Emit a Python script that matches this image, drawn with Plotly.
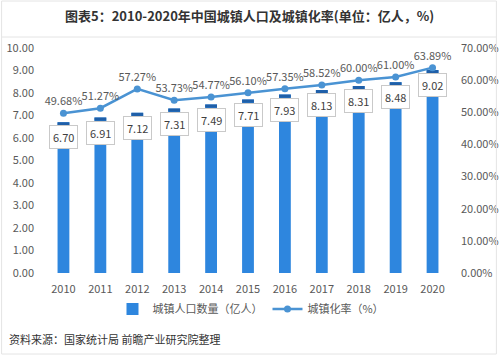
import plotly.graph_objects as go

years = ["2010", "2011", "2012", "2013", "2014", "2015", "2016", "2017", "2018", "2019", "2020"]
urban_pop = [6.70, 6.91, 7.12, 7.31, 7.49, 7.71, 7.93, 8.13, 8.31, 8.48, 9.02]
urban_rate = [49.68, 51.27, 57.27, 53.73, 54.77, 56.10, 57.35, 58.52, 60.00, 61.00, 63.89]
left_ticks = [0, 1, 2, 3, 4, 5, 6, 7, 8, 9, 10]
right_ticks = [0, 10, 20, 30, 40, 50, 60, 70]

FONT = "Noto Sans CJK SC, Noto Sans, sans-serif"
BAR_C = "#2e86de"
CAP_C = "#1f5fa8"
LINE_C = "#4a93d3"
TXT = "#595959"
CAP_H = 0.14

# plot area in pixels
L, R, T, B = 44.5, 451.5, 48, 273
PW, PH = R - L, B - T


def px(x):
    return (x - L) / PW


def py(y):
    return (B - y) / PH


fig = go.Figure()
fig.add_trace(go.Bar(
    x=years, y=urban_pop, name="城镇人口数量（亿人）",
    marker=dict(color=BAR_C, line=dict(width=0)), width=0.32,
))
fig.add_trace(go.Bar(
    x=years, y=[CAP_H] * len(years), base=[v - CAP_H for v in urban_pop],
    marker=dict(color=CAP_C, line=dict(width=0)), width=0.32,
    showlegend=False, hoverinfo="skip",
))
fig.add_trace(go.Scatter(
    x=years, y=urban_rate, name="城镇化率（%）", yaxis="y2",
    mode="lines+markers+text",
    line=dict(color=LINE_C, width=2.5),
    marker=dict(color=LINE_C, size=7),
    text=[f"{v:.2f}%" for v in urban_rate],
    textposition="top center",
    textfont=dict(size=11, color=TXT, family=FONT),
    cliponaxis=False,
))

annotations = []
for i, v in enumerate(urban_pop):
    annotations.append(dict(
        x=i, y=v - CAP_H, xref="x", yref="y", text=f"{v:.2f}",
        showarrow=False, yanchor="top", xanchor="center",
        font=dict(size=11, color="#404040", family=FONT),
        bgcolor="white", bordercolor="#c9c9c9", borderwidth=1, borderpad=3,
    ))

annotations.append(dict(
    x=px(250), y=py(16), xref="paper", yref="paper",
    text="<b>图表5：2010-2020年中国城镇人口及城镇化率(单位：亿人，%)</b>",
    showarrow=False, xanchor="center", yanchor="middle",
    font=dict(size=13, color="#333333", family=FONT),
))
annotations.append(dict(
    x=px(6), y=py(339), xref="paper", yref="paper",
    text="资料来源：国家统计局 前瞻产业研究院整理",
    showarrow=False, xanchor="left", yanchor="middle",
    font=dict(size=11, color="#333333", family=FONT),
))

fig.update_layout(
    width=500, height=356, autosize=False,
    margin=dict(l=L, r=500 - R, t=T, b=356 - B, autoexpand=False),
    paper_bgcolor="white", plot_bgcolor="white",
    barmode="overlay",
    font=dict(family=FONT, size=11, color=TXT),
    showlegend=True,
    legend=dict(orientation="h", x=px(251), xanchor="center", y=py(309), yanchor="middle",
                font=dict(size=11, color=TXT, family=FONT), itemwidth=30,
                traceorder="normal"),
    xaxis=dict(type="category", range=[-0.5, 10.5], showgrid=False, showline=False,
               automargin=False,
               ticks="", tickfont=dict(size=11, color=TXT), ticklabelstandoff=8),
    yaxis=dict(range=[0, 10], tickvals=left_ticks, automargin=False,
               ticktext=[f"{t:.2f}" for t in left_ticks],
               showgrid=False, zeroline=False, showline=False, ticks="",
               tickfont=dict(size=11, color=TXT), ticklabelstandoff=10),
    yaxis2=dict(range=[0, 70], tickvals=right_ticks, automargin=False,
                ticktext=[f"{t:.2f}%" for t in right_ticks],
                overlaying="y", side="right", showgrid=False, zeroline=False,
                showline=False, ticks="", tickfont=dict(size=11, color=TXT),
                ticklabelstandoff=9),
    annotations=annotations,
    shapes=[
        dict(type="rect", xref="paper", yref="paper", x0=px(1), x1=px(497),
             y0=py(354), y1=py(1), line=dict(color="#e4e4e4", width=1)),
        dict(type="line", xref="paper", yref="paper", x0=px(1), x1=px(497),
             y0=py(37), y1=py(37), line=dict(color="#e4e4e4", width=1)),
    ],
)

fig.write_html(
    "out.html",
    config={"displayModeBar": False, "responsive": False},
    post_script="document.body.style.margin='0';document.body.style.overflow='hidden';",
)
